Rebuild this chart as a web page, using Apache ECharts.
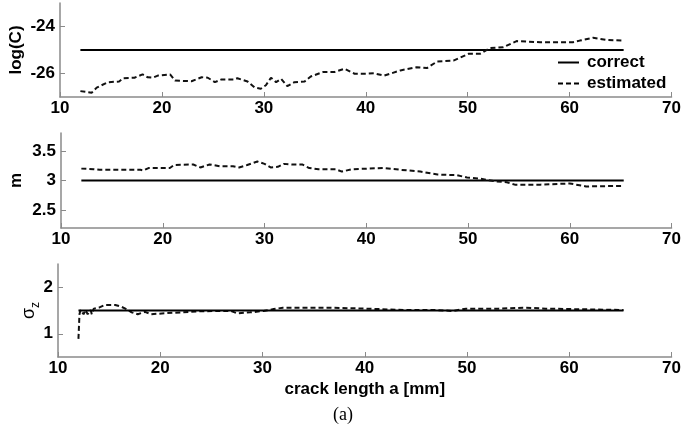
<!DOCTYPE html>
<html>
<head>
<meta charset="utf-8">
<script src="https://cdn.jsdelivr.net/npm/echarts@6/dist/echarts.min.js"></script>
<style>
html,body{margin:0;padding:0;background:#fff;}
#chart{width:684px;height:441px;}
</style>
</head>
<body>
<div id="chart"></div>
<script>
// ---- data ----
const xTicks = [10, 20, 30, 40, 50, 60, 70];
const logCTicks = [-26, -24];
const mTicks = [2.5, 3, 3.5];
const sigmaTicks = [1, 2];

const correctA = [12, 65.3];
const logCCorrect = [-25, -25];
const mCorrect = [3, 3];
const sigmaCorrect = [1.5, 1.5];

const logCA = [12.0,13.1,13.6,14.7,15.8,16.2,17.3,18.1,18.6,19.1,19.6,20.8,21.3,22.9,23.9,24.5,25.2,25.8,27.1,27.4,28.4,29.1,29.7,30.2,30.7,31.2,31.7,32.3,33.0,34.0,34.6,35.8,36.9,37.9,38.9,40.0,40.8,41.8,43.4,45.0,46.0,47.0,48.6,50.1,51.2,52.2,53.5,54.8,57.1,60.3,61.0,62.3,63.6,65.3];
const logCEst = [-26.75,-26.82,-26.6,-26.37,-26.34,-26.2,-26.18,-26.04,-26.16,-26.18,-26.09,-26.04,-26.3,-26.33,-26.16,-26.18,-26.37,-26.26,-26.26,-26.2,-26.34,-26.6,-26.65,-26.5,-26.18,-26.37,-26.23,-26.54,-26.37,-26.34,-26.13,-25.94,-25.94,-25.8,-26.01,-26.01,-25.99,-26.09,-25.87,-25.73,-25.77,-25.49,-25.45,-25.16,-25.16,-24.92,-24.88,-24.62,-24.67,-24.67,-24.6,-24.48,-24.57,-24.6];

const mA = [12.0,13.2,13.8,17.8,18.1,18.6,20.7,21.1,23.0,23.7,24.6,25.6,26.9,27.5,28.3,29.3,30.0,30.6,31.3,31.9,32.7,33.7,34.4,35.3,37.0,37.6,38.6,40.1,41.8,43.4,45.3,47.0,48.9,49.9,51.2,52.5,53.8,54.6,57.1,60.0,61.6,65.3];
const mEst = [3.2,3.19,3.18,3.18,3.17,3.21,3.21,3.26,3.27,3.22,3.27,3.24,3.24,3.22,3.26,3.32,3.28,3.22,3.23,3.28,3.27,3.27,3.21,3.19,3.19,3.15,3.19,3.2,3.21,3.18,3.15,3.1,3.09,3.05,3.03,2.99,2.97,2.93,2.93,2.95,2.9,2.91];

const sigmaA = [12.0,12.1,12.2,12.5,12.7,12.9,13.2,13.3,13.5,14.0,14.6,15.6,16.2,16.7,17.2,17.8,18.5,19.1,20.4,22.0,23.6,25.3,26.9,27.5,28.8,30.1,31.1,32.0,36.6,40.1,44.0,47.0,48.6,49.9,53.1,55.7,57.7,60.3,65.3];
const sigmaEst = [0.89,1.42,1.51,1.42,1.51,1.42,1.51,1.42,1.54,1.56,1.62,1.62,1.58,1.53,1.46,1.42,1.47,1.42,1.44,1.46,1.48,1.49,1.49,1.44,1.46,1.49,1.53,1.56,1.56,1.54,1.51,1.51,1.49,1.54,1.54,1.56,1.54,1.53,1.51];

const seriesNames = ['correct', 'estimated'];
const xAxisName = 'crack length a [mm]';
const captionText = '(a)';

// ---- helpers ----
const pairs = (xs, ys) => xs.map((x, i) => [x, ys[i]]);
const FONT = 'Liberation Sans, Arial, sans-serif';
const AXIS_GRAY = '#8a8a8a';

const grids = [
  {left: 58, right: 11, top: 3, height: 94},
  {left: 58, right: 11, top: 133, height: 95},
  {left: 58, right: 11, top: 264, height: 93}
];

function mkX(idx, withName) {
  const ax = {
    type: 'value', gridIndex: idx, min: 10, max: 70, interval: 10,
    axisLine: {show: true, onZero: false, lineStyle: {color: AXIS_GRAY, width: 1.5}},
    axisTick: {show: true, inside: true, length: 5, lineStyle: {color: AXIS_GRAY, width: 1}},
    axisLabel: {color: '#000', fontSize: 17, fontWeight: 'bold', fontFamily: FONT, margin: 3},
    splitLine: {show: false}
  };
  if (withName) {
    ax.name = xAxisName;
    ax.nameLocation = 'middle';
    ax.nameGap = 24;
    ax.nameMoveOverlap = false;
    ax.nameTextStyle = {color: '#000', fontSize: 17, fontWeight: 'bold', fontFamily: FONT};
  }
  return ax;
}

function mkY(idx, min, max, ticks, name, nameGap, nameStyle) {
  return {
    type: 'value', gridIndex: idx, min: min, max: max,
    name: name, nameLocation: 'middle', nameRotate: 90, nameGap: nameGap,
    nameMoveOverlap: false,
    nameTextStyle: nameStyle,
    axisLine: {show: true, lineStyle: {color: AXIS_GRAY, width: 1.5}},
    axisTick: {show: true, inside: true, length: 5, customValues: ticks, lineStyle: {color: AXIS_GRAY, width: 1}},
    axisLabel: {customValues: ticks, color: '#000', fontSize: 17, fontWeight: 'bold', fontFamily: FONT, margin: 5},
    splitLine: {show: false}
  };
}

const boldName = {color: '#000', fontSize: 17, fontWeight: 'bold', fontFamily: FONT};
const sigmaName = {
  color: '#000', fontFamily: FONT,
  rich: {
    s: {fontSize: 18, fontFamily: FONT, color: '#000', verticalAlign: 'bottom'},
    z: {fontSize: 12, fontFamily: FONT, color: '#000', verticalAlign: 'bottom', padding: [0, 0, -4, 0]}
  }
};

const solid = {color: '#000', width: 2.2, type: 'solid'};
const dashed = {color: '#111', width: 2, type: [5, 3]};

function mkSeries(idx, name, data, style) {
  return {
    type: 'line', name: name, xAxisIndex: idx, yAxisIndex: idx,
    data: data, symbol: 'none', showSymbol: false, smooth: false,
    lineStyle: style, itemStyle: {color: style.color},
    emphasis: {disabled: true}, silent: true
  };
}

const option = {
  animation: false,
  backgroundColor: '#fff',
  grid: grids,
  xAxis: [mkX(0, false), mkX(1, false), mkX(2, true)],
  yAxis: [
    mkY(0, -27, -23, logCTicks, 'log(C)', 35, boldName),
    mkY(1, 2.2, 3.8, mTicks, 'm', 36, boldName),
    mkY(2, 0.5, 2.5, sigmaTicks, '{s|σ}{z|z}', 20, sigmaName)
  ],
  legend: {
    data: [
      {name: seriesNames[0], icon: 'path://M0,0H21V2H0Z'},
      {name: seriesNames[1], icon: 'path://M0,0H5V2H0Z M8,0H13V2H8Z M16,0H21V2H16Z'}
    ],
    orient: 'vertical', left: 558, top: 54, padding: 0,
    itemWidth: 21, itemHeight: 2, itemGap: 4,
    itemStyle: {color: '#000', borderWidth: 0},
    textStyle: {color: '#000', fontSize: 17, fontWeight: 'bold', fontFamily: FONT, padding: [0, 0, 0, 3]}
  },
  series: [
    mkSeries(0, seriesNames[0], pairs(correctA, logCCorrect), solid),
    mkSeries(0, seriesNames[1], pairs(logCA, logCEst), dashed),
    mkSeries(1, seriesNames[0], pairs(correctA, mCorrect), solid),
    mkSeries(1, seriesNames[1], pairs(mA, mEst), dashed),
    mkSeries(2, seriesNames[1], pairs(sigmaA, sigmaEst), dashed),
    mkSeries(2, seriesNames[0], pairs(correctA, sigmaCorrect), solid)
  ],
  graphic: [{
    type: 'text', left: 333, top: 406,
    style: {text: captionText, fill: '#000', font: '18px "Liberation Serif", "Times New Roman", serif'}
  }]
};

const chart = echarts.init(document.getElementById('chart'), null, {renderer: 'canvas'});
chart.setOption(option);
</script>
</body>
</html>
